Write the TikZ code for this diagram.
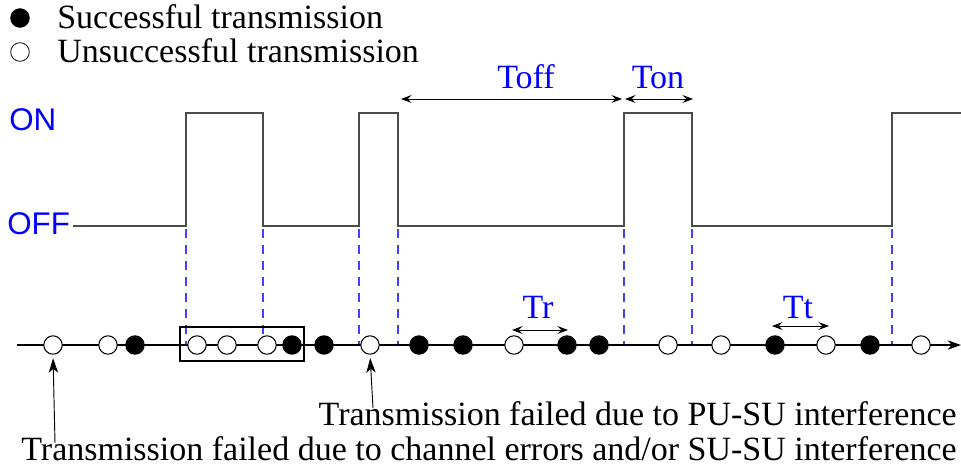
\documentclass[tikz,border=0pt]{standalone}
\usepackage{fontspec}
\setmainfont{Liberation Serif}
\newfontfamily\sansfnt{Liberation Sans}
\usetikzlibrary{arrows.meta}
\definecolor{dashblue}{rgb}{0.25,0.25,1}
\begin{document}
\begin{tikzpicture}[x=0.75pt,y=-0.75pt,
  dot/.style={circle,draw=black,line width=0.8pt,minimum size=13.8pt,inner sep=0pt},
  sdot/.style={dot,fill=black},
  odot/.style={dot,fill=white},
  legdot/.style={circle,draw=black,line width=0.6pt,minimum size=14pt,inner sep=0pt},
  sig/.style={draw=black!70,line width=0.8pt},
  dsh/.style={draw=dashblue,dash pattern=on 7pt off 5pt,line width=0.8pt},
  lab/.style={text=blue,font=\fontsize{25.5}{28}\selectfont,inner sep=0pt,anchor=base},
  onoff/.style={text=blue,font=\sansfnt\fontsize{23.5}{26}\selectfont,inner sep=0pt,anchor=base west},
  txt/.style={font=\fontsize{25.5}{28}\selectfont,inner sep=0pt},
  dimarr/.style={{Stealth[length=8pt,width=6pt,inset=3pt]}-{Stealth[length=8pt,width=6pt,inset=3pt]},line width=0.7pt},
  callout/.style={-{Stealth[length=11pt,width=7pt,inset=3pt]},line width=0.7pt}
]
\useasboundingbox (0,0) rectangle (961,471);

% legend
\node[legdot,fill=black] (ls) at (20,18) {};
\node[legdot,fill=white] (lu) at (20,52) {};
\node[txt,anchor=base west] (lst) at (57,28) {Successful transmission};
\node[txt,anchor=base west] (lut) at (57,62) {Unsuccessful transmission};

% ON / OFF labels
\node[onoff] (on) at (9,130) {ON};
\node[onoff] (off) at (7,234) {OFF};

% signal
\draw[sig] (73,226) -- (186,226) -- (186,113) -- (263,113) -- (263,226)
  -- (359,226) -- (359,113) -- (398,113) -- (398,226)
  -- (624,226) -- (624,113) -- (692,113) -- (692,226)
  -- (892,226) -- (892,113) -- (961,113);

% dashed projections
\foreach \x in {186,263,359,398,624,692,892}
  \draw[dsh] (\x,229) -- (\x,345);

% Toff / Ton
\coordinate (toffa) at (401,99);
\coordinate (toffb) at (622,99);
\coordinate (tona) at (625,99);
\coordinate (tonb) at (693,99);
\draw[dimarr] (toffa) -- (toffb);
\draw[dimarr] (tona) -- (tonb);
\node[lab] (toff) at (526,88) {Toff};
\node[lab] (ton) at (658,88) {Ton};

% time axis
\coordinate (ax0) at (17,345);
\coordinate (ax1) at (961,345);
\draw[-{Stealth[length=10pt,width=7pt,inset=3pt]},line width=1pt] (ax0) -- (ax1);

% box
\draw[line width=1.1pt] (180,327) rectangle (304,361);

% transmissions
\node[odot] (c1) at (53,345) {};
\node[odot] (c2) at (108,345) {};
\node[sdot] (c3) at (135,345) {};
\node[odot] (c4) at (197,345) {};
\node[odot] (c5) at (227,345) {};
\node[odot] (c6) at (267,345) {};
\node[sdot] (c7) at (292,345) {};
\node[sdot] (c8) at (324,345) {};
\node[odot] (c9) at (370,345) {};
\node[sdot] (c10) at (419,345) {};
\node[sdot] (c11) at (463,345) {};
\node[odot] (c12) at (514,345) {};
\node[sdot] (c13) at (567,345) {};
\node[sdot] (c14) at (599,345) {};
\node[odot] (c15) at (668,345) {};
\node[odot] (c16) at (721,345) {};
\node[sdot] (c17) at (775,345) {};
\node[odot] (c18) at (826,345) {};
\node[sdot] (c19) at (870,345) {};
\node[odot] (c20) at (921,345) {};

% Tr / Tt
\coordinate (tra) at (512,330);
\coordinate (trb) at (568,330);
\coordinate (tta) at (772,326);
\coordinate (ttb) at (829,326);
\draw[dimarr] (tra) -- (trb);
\draw[dimarr] (tta) -- (ttb);
\node[lab] (tr) at (538,318) {Tr};
\node[lab] (tt) at (798,318) {Tt};

% captions
\node[txt,anchor=base east] (cap1) at (957,425) {Transmission failed due to PU-SU interference};
\node[txt,anchor=base east] (cap2) at (957,460) {Transmission failed due to channel errors and/or SU-SU interference};

\coordinate (a1) at (55,443);
\coordinate (a2) at (373,408);
\draw[callout,shorten >=2.5pt] (a1) -- (c1.south);
\draw[callout,shorten >=2.5pt] (a2) -- (c9.south);
\end{tikzpicture}
\end{document}
